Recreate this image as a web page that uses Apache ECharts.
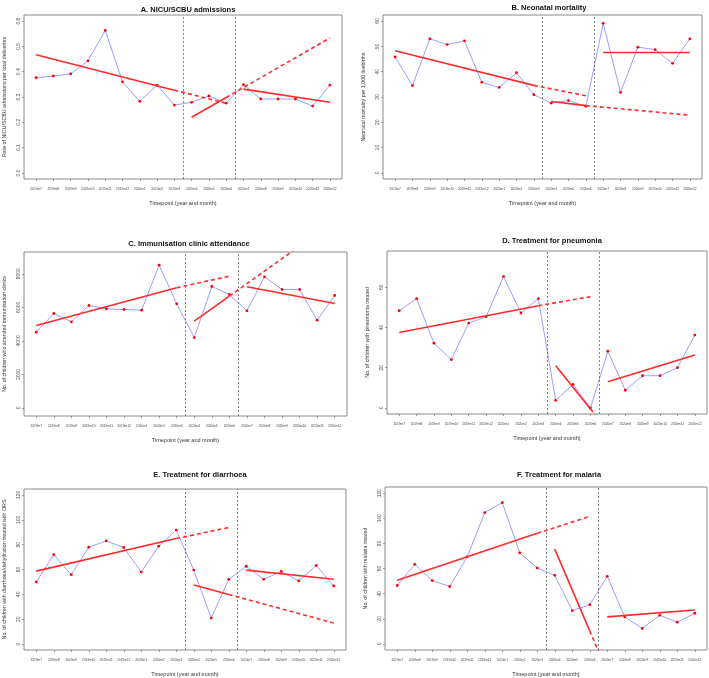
<!DOCTYPE html>
<html>
<head>
<meta charset="utf-8">
<script src="https://cdn.jsdelivr.net/npm/echarts@6/dist/echarts.min.js"></script>
<style>
  html, body { margin: 0; padding: 0; background: #fff; }
  #chart { width: 709px; height: 678px; }
</style>
</head>
<body>
<div id="chart"></div>
<script>
// months on the x axis
const cats = ['2019m7','2019m8','2019m9','2019m10','2019m11','2019m12','2020m1','2020m2','2020m3',
  '2020m4','2020m5','2020m6','2020m7','2020m8','2020m9','2020m10','2020m11','2020m12'];

// observed values, one per month
const aObs = [0.376,0.383,0.391,0.443,0.563,0.360,0.283,0.347,0.268,0.279,0.304,0.276,0.349,0.292,0.292,0.292,0.264,0.347];
const bObs = [45.8,34.5,53.0,50.7,52.2,35.8,33.8,39.6,30.9,27.6,28.6,26.3,59.1,31.8,49.7,48.7,43.3,53.0];
const cObs = [4517,5632,5134,6109,5910,5871,5831,8517,6209,4199,7244,6766,5791,7821,7065,7065,5234,6706];
const dObs = [48.3,54.3,32.2,24.0,42.2,45.3,65.3,47.2,54.3,3.8,11.7,0,28.2,8.8,16,16,20,36.2];
const eObs = [50,71.9,55.8,78,83,77.7,57.9,78.8,91.7,59.5,20.9,52.1,62.6,52.1,58.4,50.8,63.2,46.8];
const fObs = [46.5,63.3,50.4,45.7,69.3,104.5,112.4,72.5,60.4,54.6,26.5,31.2,53.8,21.5,12.3,22.8,17.3,24.4];

// fitted trends: pre at months 0, 8, 11; lockdown at 9, 11, 17; post at 12, 17
const aPre = [0.467,0.327,0.275], aLock = [0.220,0.298,0.533], aPost = [0.331,0.279];
const bPre = [48.3,34.6,30.5],    bLock = [28.2,26.6,22.8],    bPost = [47.6,47.6];
const cPre = [4915,7164,7860],    cLock = [5174,6667,11143],   cPost = [7224,6229];
const dPre = [37.5,50.8,55.3],    dLock = [21,-0.5,-65],       dPost = [13,26.3];
const ePre = [58.7,84.9,93.8],    eLock = [47.6,39.9,16.9],    ePost = [59.5,52.1];
const fPre = [50.7,88,101.4],     fLock = [75.4,10.4,-184.6],  fPost = [21.5,27];

// y tick labels
const aTicks = [0,0.1,0.2,0.3,0.4,0.5,0.6];
const bTicks = [0,10,20,30,40,50,60];
const cTicks = [0,2000,4000,6000,8000];
const dTicks = [0,20,40,60];
const efTicks = [0,20,40,60,80,100,120];

const panels = [
  {title:'A. NICU/SCBU admissions', yName:'Rate of NICU/SCBU admissions per total deliveries',
   obs:aObs, pre:aPre, lock:aLock, post:aPost, ticks:aTicks, ymin:-0.024, ymax:0.624, dec:1,
   box:[24,15,318,164], tx:183, ty:1},
  {title:'B. Neonatal mortality', yName:'Neonatal mortality per 1,000 livebirths',
   obs:bObs, pre:bPre, lock:bLock, post:bPost, ticks:bTicks, ymin:-2.4, ymax:62.4, dec:0,
   box:[383,15,319,164], tx:544, ty:-1},
  {title:'C. Immunisation clinic attendance', yName:'No. of children who attended immunisation clinics',
   obs:cObs, pre:cPre, lock:cLock, post:cPost, ticks:cTicks, ymin:-480, ymax:9300, dec:0,
   box:[24,252,323,164], tx:184, ty:235},
  {title:'D. Treatment for pneumonia', yName:'No. of children with pneumonia treated',
   obs:dObs, pre:dPre, lock:dLock, post:dPost, ticks:dTicks, ymin:-3, ymax:78, dec:0,
   box:[387,251,320,163], tx:547, ty:232},
  {title:'E. Treatment for diarrhoea', yName:'No. of children with diarrhoea/dehydration treated with ORS',
   obs:eObs, pre:ePre, lock:eLock, post:ePost, ticks:efTicks, ymin:-4.8, ymax:124.8, dec:0,
   box:[24,489,322,162], tx:195, ty:466},
  {title:'F. Treatment for malaria', yName:'No. of children with malaria treated',
   obs:fObs, pre:fPre, lock:fLock, post:fPost, ticks:efTicks, ymin:-4.8, ymax:124.8, dec:0,
   box:[385,487,322,164], tx:554, ty:466}
];

const FONT = 'Liberation Sans, Arial, sans-serif';
const RED = '#ff2b2b';

let titles = [], grids = [], xAxes = [], yAxes = [], series = [];

function seg(i, pts, dashed) {
  return {
    type:'line', xAxisIndex:i, yAxisIndex:i, data:pts, symbol:'none', z:4,
    lineStyle:{color:RED, width:1.6, type: dashed ? [4,3] : 'solid'}
  };
}

panels.forEach((p, i) => {
  titles.push({
    text:p.title, left:p.tx, top:p.ty, textAlign:'center',
    textStyle:{fontFamily:FONT, fontSize:7.5, fontWeight:'bold', color:'#111'}
  });
  grids.push({
    left:p.box[0], top:p.box[1], width:p.box[2], height:p.box[3],
    show:true, borderColor:'#8a8a8a', borderWidth:1, backgroundColor:'transparent'
  });
  xAxes.push({
    gridIndex:i, type:'value', min:-0.7, max:17.7,
    name:'Timepoint (year and month)', nameLocation:'middle', nameGap:21,
    nameTextStyle:{fontFamily:FONT, fontSize:5.5, color:'#333'},
    axisLine:{show:false, onZero:false}, splitLine:{show:false},
    axisTick:{show:true, length:2, lineStyle:{color:'#666', width:0.6},
      customValues:cats.map((c, k) => k)},
    axisLabel:{fontFamily:FONT, fontSize:3.2, color:'#444', margin:9,
      customValues:cats.map((c, k) => k), formatter:v => cats[Math.round(v)]}
  });
  yAxes.push({
    gridIndex:i, type:'value', min:p.ymin, max:p.ymax,
    name:p.yName, nameLocation:'middle', nameGap:17,
    nameTextStyle:{fontFamily:FONT, fontSize:5.3, color:'#333'},
    axisLine:{show:false, onZero:false}, splitLine:{show:false},
    axisTick:{show:true, length:2, lineStyle:{color:'#666', width:0.6}, customValues:p.ticks},
    axisLabel:{fontFamily:FONT, fontSize:5, color:'#555', rotate:90, margin:3,
      customValues:p.ticks, formatter:v => v.toFixed(p.dec)}
  });

  series.push({
    type:'line', xAxisIndex:i, yAxisIndex:i, z:3,
    data:p.obs.map((v, k) => [k, v]),
    symbol:'circle', symbolSize:2.8,
    itemStyle:{color:'#ff0000'},
    lineStyle:{color:'#9d9dff', width:1},
    markLine:{
      silent:true, symbol:'none', label:{show:false},
      lineStyle:{color:'#666', width:0.8, type:[2,2]},
      data:[{xAxis:8.5}, {xAxis:11.5}]
    }
  });
  series.push(seg(i, [[0, p.pre[0]], [8, p.pre[1]]], false));
  series.push(seg(i, [[8, p.pre[1]], [11, p.pre[2]]], true));
  series.push(seg(i, [[9, p.lock[0]], [11, p.lock[1]]], false));
  series.push(seg(i, [[11, p.lock[1]], [17, p.lock[2]]], true));
  series.push(seg(i, [[12, p.post[0]], [17, p.post[1]]], false));
});

const chart = echarts.init(document.getElementById('chart'));
chart.setOption({
  animation:false,
  backgroundColor:'#fff',
  title:titles,
  grid:grids,
  xAxis:xAxes,
  yAxis:yAxes,
  series:series
});
</script>
</body>
</html>
